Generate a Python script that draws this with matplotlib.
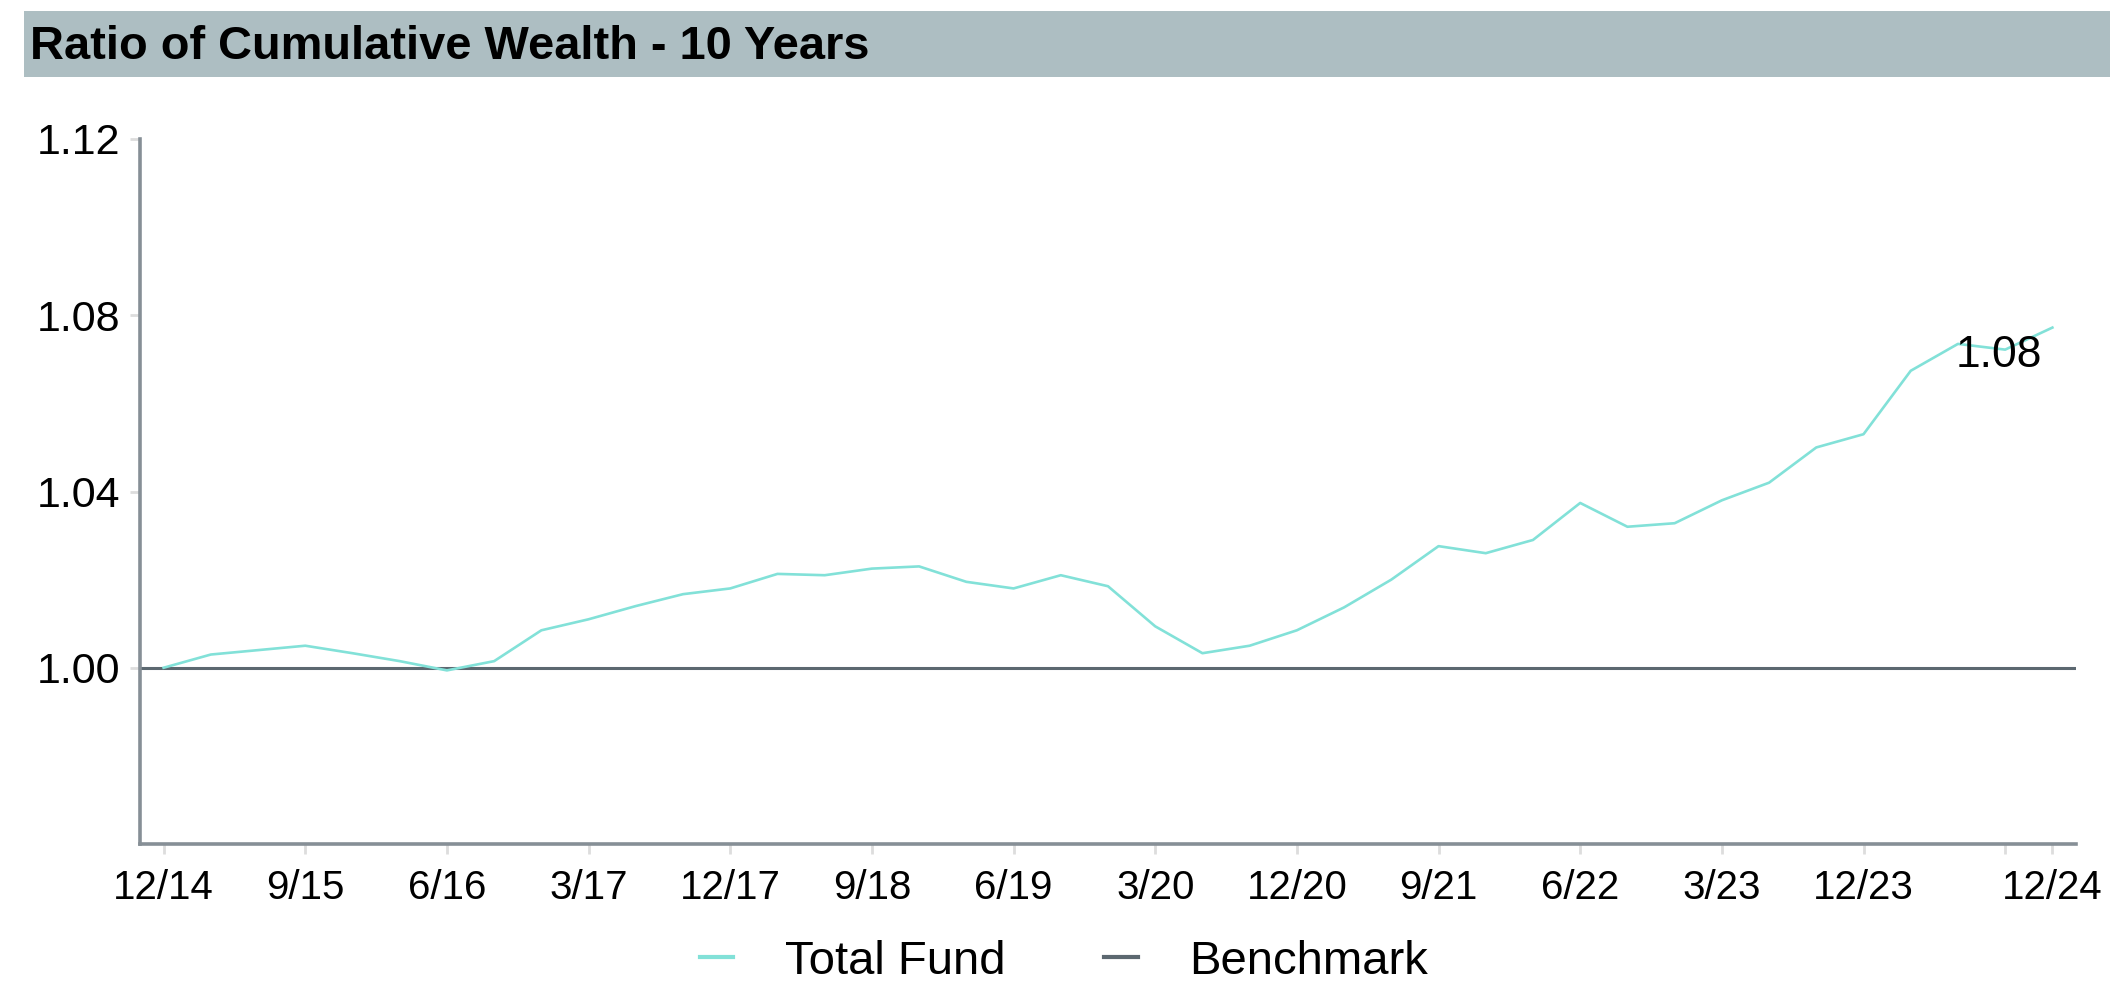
import matplotlib
matplotlib.use('Agg')
import matplotlib.pyplot as plt
from matplotlib.patches import Rectangle

plt.rcParams['font.family'] = ['Liberation Sans', 'DejaVu Sans']

# Quarter-end labels, 12/14 .. 12/24
quarters = [
    "12/14", "3/15", "6/15", "9/15", "12/15", "3/16", "6/16", "9/16", "12/16",
    "3/17", "6/17", "9/17", "12/17", "3/18", "6/18", "9/18", "12/18",
    "3/19", "6/19", "9/19", "12/19", "3/20", "6/20", "9/20", "12/20",
    "3/21", "6/21", "9/21", "12/21", "3/22", "6/22", "9/22", "12/22",
    "3/23", "6/23", "9/23", "12/23", "3/24", "6/24", "9/24", "12/24",
]

# Ratio of cumulative wealth (fund / benchmark)
total_fund = [
    1.000, 1.003, 1.004, 1.005, 1.0033, 1.0015, 0.9994, 1.0015, 1.0085,
    1.011, 1.014, 1.0167, 1.018, 1.0213, 1.021, 1.0225, 1.023,
    1.0195, 1.018, 1.021, 1.0185, 1.0094, 1.0033, 1.005, 1.0085,
    1.0137, 1.020, 1.0276, 1.026, 1.029, 1.0374, 1.032, 1.0328,
    1.038, 1.042, 1.050, 1.053, 1.0674, 1.0735, 1.0722, 1.0772,
]
benchmark_level = 1.0

labeled_ticks = ["12/14", "9/15", "6/16", "3/17", "12/17", "9/18", "6/19",
                 "3/20", "12/20", "9/21", "6/22", "3/23", "12/23", "12/24"]
tick_quarters = quarters[::3] + ["12/24"]
y_ticks = [1.00, 1.04, 1.08, 1.12]

fund_color = '#82e1d8'
bench_color = '#5c6870'
spine_color = '#868f96'

fig = plt.figure(figsize=(21.1, 9.81), dpi=100)

# title band
fig.patches.append(Rectangle((24 / 2110, 1 - 77 / 981), 1.0, 66 / 981,
                             transform=fig.transFigure, facecolor='#adbec2',
                             edgecolor='none', zorder=0))
fig.text(30 / 2110, 1 - 47 / 981, "Ratio of Cumulative Wealth - 10 Years",
         fontsize=33.8, fontweight='bold', ha='left', va='center', color='black')

ax = fig.add_axes([140 / 2110, 1 - 844 / 981, (2076 - 140) / 2110, (844 - 139) / 981])

x = list(range(len(quarters)))
ax.axhline(benchmark_level, color=bench_color, lw=2.2, label='Benchmark', zorder=2)
ax.plot(x, total_fund, color=fund_color, lw=1.9, label='Total Fund', zorder=3)

ax.annotate(f"{total_fund[-1]:.2f}", xy=(x[-1], total_fund[-1]),
            xytext=(-10, -28), textcoords='offset pixels',
            ha='right', va='center', fontsize=32, color='black')

ax.set_xlim(-0.5, len(quarters) - 0.5)
ax.set_ylim(0.96, 1.12)

ax.set_xticks([quarters.index(q) for q in tick_quarters])
ax.set_xticklabels([q if q in labeled_ticks else "" for q in tick_quarters])
ax.set_yticks(y_ticks)
ax.set_yticklabels([f"{v:.2f}" for v in y_ticks])

ax.tick_params(axis='both', colors='#dddddd', labelcolor='black',
               width=2, length=7)
ax.tick_params(axis='x', pad=11, labelsize=29)
ax.tick_params(axis='y', pad=7, labelsize=31)

for side in ['top', 'right']:
    ax.spines[side].set_visible(False)
for side in ['left', 'bottom']:
    ax.spines[side].set_color(spine_color)
    ax.spines[side].set_linewidth(2.6)

handles, labels = ax.get_legend_handles_labels()
order = [1, 0]
leg = fig.legend([handles[i] for i in order], [labels[i] for i in order],
                 loc='center', bbox_to_anchor=(1064 / 2110, 1 - 962 / 981),
                 ncol=2, frameon=False, fontsize=34, handlelength=0.7,
                 handletextpad=1.1, columnspacing=2.1)
for line in leg.get_lines():
    line.set_linewidth(3)

fig.savefig('out.png', dpi=100)
